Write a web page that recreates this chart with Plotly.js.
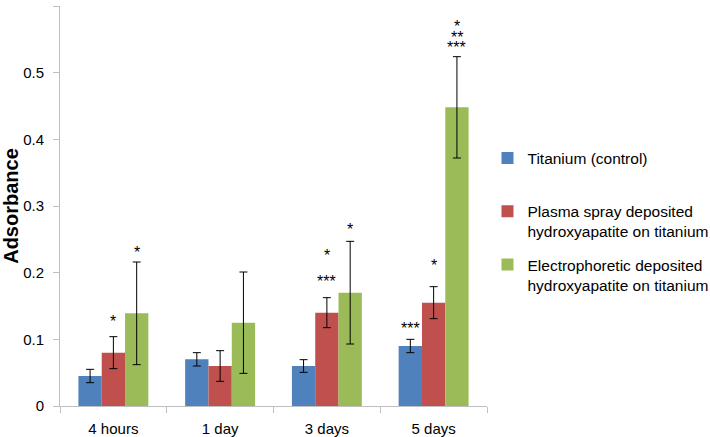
<!DOCTYPE html>
<html>
<head>
<meta charset="utf-8">
<script src="https://cdn.plot.ly/plotly-3.0.1.min.js"></script>
<style>html,body{margin:0;padding:0;background:#fff;}#chart{width:710px;height:437px;}</style>
</head>
<body>
<div id="chart"></div>
<script>
var categories = ["4 hours", "1 day", "3 days", "5 days"];
var seriesNames = ["Titanium (control)<br>&nbsp;", "Plasma spray deposited<br>hydroxyapatite on titanium", "Electrophoretic deposited<br>hydroxyapatite on titanium"];
var titaniumVals = [0.045, 0.07, 0.06, 0.09];
var titaniumErr = [0.01, 0.01, 0.0095, 0.01];
var plasmaVals = [0.08, 0.06, 0.14, 0.155];
var plasmaErr = [0.024, 0.023, 0.0225, 0.024];
var electroVals = [0.139, 0.125, 0.17, 0.448];
var electroErr = [0.077, 0.076, 0.077, 0.076];
// significance markers: [category index, series index, y value, label]
var starCat = [0, 0, 2, 2, 2, 3, 3, 3, 3, 3];
var starSeries = [1, 2, 1, 1, 2, 0, 1, 2, 2, 2];
var starY = [0.132, 0.2355, 0.231, 0.192, 0.27, 0.1215, 0.216, 0.574, 0.558, 0.543];
var starText = ["*", "*", "*", "***", "*", "***", "*", "*", "**", "***"];

var colors = ["#4f81bd", "#c0504d", "#9bbb59"];
var vals = [titaniumVals, plasmaVals, electroVals];
var errs = [titaniumErr, plasmaErr, electroErr];
var font = "Liberation Sans, Arial, sans-serif";
var bargap = 0.345;
var w = (1 - bargap) / 3;

var traces = vals.map(function (v, i) {
  return {
    type: "bar",
    name: seriesNames[i],
    x: categories,
    y: v,
    legendgroup: "g" + i,
    marker: {color: colors[i]},
    error_y: {type: "data", array: errs[i], visible: true, color: "#000", thickness: 1, width: 4}
  };
});

var annotations = starText.map(function (t, k) {
  return {
    x: starCat[k] + (starSeries[k] - 1) * w,
    y: starY[k],
    xref: "x", yref: "y",
    text: t,
    showarrow: false,
    yanchor: "middle",
    yshift: -3,
    font: {family: font, size: 16, color: "#000"}
  };
});

var layout = {
  width: 710, height: 437,
  margin: {l: 60, r: 223, t: 6, b: 31},
  paper_bgcolor: "#fff", plot_bgcolor: "#fff",
  barmode: "group",
  bargap: bargap, bargroupgap: 0,
  showlegend: true,
  legend: {xref: "container", yref: "container", x: 0.6866, y: 0.6766, xanchor: "left", yanchor: "top", valign: "top",
    font: {family: font, size: 15.5, color: "#000"}, tracegroupgap: 10, itemwidth: 30,
    bgcolor: "rgba(0,0,0,0)"},
  xaxis: {
    type: "category", showline: true, linecolor: "#bfbfbf", linewidth: 1,
    ticks: "outside", tickson: "boundaries", ticklen: 6, tickcolor: "#bfbfbf",
    showgrid: false, zeroline: false, ticklabelstandoff: 9,
    tickfont: {family: font, size: 15, color: "#000"}
  },
  yaxis: {
    range: [0, 0.6], dtick: 0.1, tick0: 0, showline: true, linecolor: "#bfbfbf", linewidth: 1,
    ticks: "outside", ticklen: 6, tickcolor: "#bfbfbf", showgrid: false, zeroline: false,
    ticklabelstandoff: 6,
    tickfont: {family: font, size: 15, color: "#000"},
    title: {text: "<b>Adsorbance</b>", font: {family: font, size: 20, color: "#000"}, standoff: 13}
  },
  annotations: annotations
};

Plotly.newPlot("chart", traces, layout, {displayModeBar: false, staticPlot: true});
</script>
</body>
</html>
